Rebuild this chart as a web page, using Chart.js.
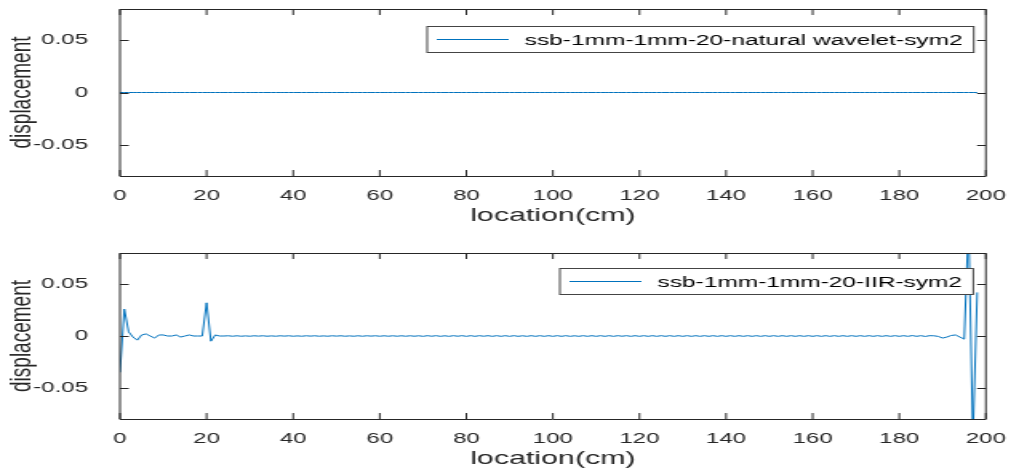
<!DOCTYPE html>
<html>
<head>
<meta charset="utf-8">
<script src="https://cdn.jsdelivr.net/npm/chart.js@4"></script>
<style>
html, body { margin: 0; padding: 0; background: #fff; }
body { width: 1011px; height: 474px; overflow: hidden; position: relative; }
canvas.plot { position: absolute; left: 0; width: 1011px !important; height: 237px !important; }
#top { top: 0; }
#bottom { top: 237px; }
</style>
</head>
<body>
<canvas id="top" class="plot" width="632" height="237"></canvas>
<canvas id="bottom" class="plot" width="632" height="237"></canvas>
<script>
// location (cm) of each sample
const location_cm = [
  0, 1, 2, 3, 4, 5, 6, 7, 8, 9, 10, 11, 12, 13, 14, 15, 16, 17, 18, 19,
  20, 21, 22, 23, 24, 25, 26, 27, 28, 29, 30, 31, 32, 33, 34, 35, 36, 37, 38, 39,
  40, 41, 42, 43, 44, 45, 46, 47, 48, 49, 50, 51, 52, 53, 54, 55, 56, 57, 58, 59,
  60, 61, 62, 63, 64, 65, 66, 67, 68, 69, 70, 71, 72, 73, 74, 75, 76, 77, 78, 79,
  80, 81, 82, 83, 84, 85, 86, 87, 88, 89, 90, 91, 92, 93, 94, 95, 96, 97, 98, 99,
  100, 101, 102, 103, 104, 105, 106, 107, 108, 109, 110, 111, 112, 113, 114, 115, 116, 117, 118, 119,
  120, 121, 122, 123, 124, 125, 126, 127, 128, 129, 130, 131, 132, 133, 134, 135, 136, 137, 138, 139,
  140, 141, 142, 143, 144, 145, 146, 147, 148, 149, 150, 151, 152, 153, 154, 155, 156, 157, 158, 159,
  160, 161, 162, 163, 164, 165, 166, 167, 168, 169, 170, 171, 172, 173, 174, 175, 176, 177, 178, 179,
  180, 181, 182, 183, 184, 185, 186, 187, 188, 189, 190, 191, 192, 193, 194, 195, 196, 197, 198
];

// natural wavelet result: flat zero
const waveletDisp = [
  0, 0, 0, 0, 0, 0, 0, 0, 0, 0, 0, 0, 0, 0, 0, 0, 0, 0, 0, 0,
  0, 0, 0, 0, 0, 0, 0, 0, 0, 0, 0, 0, 0, 0, 0, 0, 0, 0, 0, 0,
  0, 0, 0, 0, 0, 0, 0, 0, 0, 0, 0, 0, 0, 0, 0, 0, 0, 0, 0, 0,
  0, 0, 0, 0, 0, 0, 0, 0, 0, 0, 0, 0, 0, 0, 0, 0, 0, 0, 0, 0,
  0, 0, 0, 0, 0, 0, 0, 0, 0, 0, 0, 0, 0, 0, 0, 0, 0, 0, 0, 0,
  0, 0, 0, 0, 0, 0, 0, 0, 0, 0, 0, 0, 0, 0, 0, 0, 0, 0, 0, 0,
  0, 0, 0, 0, 0, 0, 0, 0, 0, 0, 0, 0, 0, 0, 0, 0, 0, 0, 0, 0,
  0, 0, 0, 0, 0, 0, 0, 0, 0, 0, 0, 0, 0, 0, 0, 0, 0, 0, 0, 0,
  0, 0, 0, 0, 0, 0, 0, 0, 0, 0, 0, 0, 0, 0, 0, 0, 0, 0, 0, 0,
  0, 0, 0, 0, 0, 0, 0, 0, 0, 0, 0, 0, 0, 0, 0, 0, 0, 0, 0
];

// IIR result
const iirDisp = [
  -0.035, 0.026, 0.004, -0.001, -0.004, 0.001, 0.002, 0.000, -0.002, 0.001,
  0.001, 0.000, 0.000, 0.001, -0.001, 0.000, 0.001, 0.000, 0.000, 0.000,
  0.032, -0.005, 0.001, 0.000, 0.000, 0.0002, -0.0002, 0.0002, -0.0002, 0.0001,
  -0.0002, 0.0002, -0.0001, 0.0002, -0.0002, 0.0001, -0.0002, 0.0002, -0.0001, 0.0002,
  -0.0002, 0.0001, -0.0002, 0.0002, -0.0001, 0.0002, -0.0002, 0.0001, -0.0002, 0.0002,
  -0.0001, 0.0002, -0.0002, 0.0001, -0.0002, 0.0002, -0.0002, 0.0002, -0.0001, 0.0002,
  -0.0002, 0.0002, -0.0002, 0.0002, -0.0002, 0.0002, -0.0002, 0.0002, -0.0002, 0.0002,
  -0.0003, 0.0003, -0.0002, 0.0003, -0.0003, 0.0002, -0.0003, 0.0003, -0.0002, 0.0003,
  -0.0003, 0.0003, -0.0003, 0.0003, -0.0002, 0.0003, -0.0003, 0.0003, -0.0003, 0.0003,
  -0.0003, 0.0003, -0.0003, 0.0002, -0.0003, 0.0003, -0.0003, 0.0003, -0.0003, 0.0003,
  -0.0003, 0.0003, -0.0003, 0.0003, -0.0003, 0.0002, -0.0003, 0.0003, -0.0003, 0.0003,
  -0.0003, 0.0003, -0.0003, 0.0003, -0.0003, 0.0003, -0.0002, 0.0003, -0.0003, 0.0003,
  -0.0003, 0.0003, -0.0003, 0.0003, -0.0003, 0.0003, -0.0003, 0.0003, -0.0003, 0.0003,
  -0.0003, 0.0003, -0.0003, 0.0003, -0.0003, 0.0003, -0.0003, 0.0003, -0.0003, 0.0003,
  -0.0003, 0.0003, -0.0003, 0.0003, -0.0003, 0.0003, -0.0003, 0.0003, -0.0003, 0.0003,
  -0.0003, 0.0003, -0.0003, 0.0003, -0.0003, 0.0003, -0.0003, 0.0003, -0.0003, 0.0003,
  -0.0003, 0.0003, -0.0003, 0.0003, -0.0003, 0.0003, -0.0003, 0.0003, -0.0003, 0.0003,
  -0.0003, 0.0003, -0.0003, 0.0003, -0.0003, 0.0003, -0.0003, 0.0003, -0.0003, 0.0003,
  -0.0003, 0.0003, -0.0003, 0.0004, -0.0003, 0.0003, -0.0004, 0.0003, 0.0002, -0.0004,
  -0.002, -0.001, 0.0005, 0.001, -0.001, -0.003, 0.11, -0.10, 0.042
];

const xTicks = [0, 20, 40, 60, 80, 100, 120, 140, 160, 180, 200];
const yTicks = [-0.05, 0, 0.05];

const FONT = '"Liberation Sans", Arial, Helvetica, sans-serif';
const INK = '#262626';
const BLUE = '#0072BD';

Chart.defaults.font.family = FONT;

// box around the axes with inward ticks, like matlab
const matlabAxes = {
    id: 'matlabAxes',
    afterDatasetsDraw(chart) {
        const ctx = chart.ctx;
        const a = chart.chartArea;
        const x = chart.scales.x;
        const y = chart.scales.y;
        ctx.save();
        ctx.strokeStyle = INK;
        ctx.lineWidth = 1;
        ctx.beginPath();
        ctx.rect(a.left, a.top + 0.5, a.right - a.left, a.bottom - a.top);
        x.ticks.forEach(t => {
            const px = x.getPixelForValue(t.value);
            ctx.moveTo(px, a.bottom); ctx.lineTo(px, a.bottom - 6);
            ctx.moveTo(px, a.top); ctx.lineTo(px, a.top + 6);
        });
        y.ticks.forEach(t => {
            const py = Math.round(y.getPixelForValue(t.value)) + 0.5;
            ctx.moveTo(a.left, py); ctx.lineTo(a.left + 5.5, py);
            ctx.moveTo(a.right, py); ctx.lineTo(a.right - 5.5, py);
        });
        ctx.stroke();
        ctx.restore();
    }
};

// legend box in the top right corner
const boxLegend = {
    id: 'boxLegend',
    afterDraw(chart, args, opts) {
        const ctx = chart.ctx;
        const a = chart.chartArea;
        const label = chart.data.datasets[0].label;
        ctx.save();
        ctx.font = '15.3px ' + FONT;
        const tw = ctx.measureText(label).width;
        const w = 6 + 45 + 10 + tw + 7;
        const h = 26;
        const left = Math.round(a.right - 8 - w);
        const top = Math.round(a.top + opts.offsetTop) + 0.5;
        ctx.fillStyle = '#fff';
        ctx.fillRect(left, top, w, h);
        ctx.strokeStyle = '#444';
        ctx.lineWidth = 1;
        ctx.strokeRect(left, top, w, h);
        ctx.strokeStyle = BLUE;
        ctx.beginPath();
        ctx.moveTo(left + 6, top + h / 2);
        ctx.lineTo(left + 51, top + h / 2);
        ctx.stroke();
        ctx.fillStyle = '#000';
        ctx.textBaseline = 'middle';
        ctx.textAlign = 'left';
        ctx.fillText(label, left + 61, top + h / 2 + 1);
        ctx.restore();
    }
};

function makePanel(id, values, label, padTop, xAxisHeight, titlePad, legendTop) {
    const points = location_cm.map((x, i) => ({ x: x, y: values[i] }));
    return new Chart(document.getElementById(id).getContext('2d'), {
        type: 'line',
        data: {
            datasets: [{
                label: label,
                data: points,
                borderColor: BLUE,
                borderWidth: 1,
                pointRadius: 0,
                tension: 0,
                fill: false
            }]
        },
        options: {
            responsive: false,
            animation: false,
            devicePixelRatio: 1,
            layout: { padding: { top: padTop, right: 15.75, left: 0, bottom: 0 } },
            plugins: {
                legend: { display: false },
                tooltip: { enabled: false },
                boxLegend: { offsetTop: legendTop }
            },
            scales: {
                x: {
                    type: 'linear',
                    min: 0,
                    max: 200,
                    afterFit(s) {
                        s.height = xAxisHeight;
                        s.paddingLeft = 0;
                        s.paddingRight = 0;
                    },
                    afterBuildTicks(s) { s.ticks = xTicks.map(v => ({ value: v })); },
                    grid: { display: false },
                    border: { display: false },
                    ticks: { padding: 3, color: INK, font: { size: 15 }, maxRotation: 0, autoSkip: false },
                    title: {
                        display: true,
                        text: 'location(cm)',
                        color: INK,
                        font: { size: 19 },
                        padding: { top: 0, bottom: titlePad }
                    }
                },
                y: {
                    min: -0.08,
                    max: 0.08,
                    afterFit(s) {
                        s.width = 75;
                        s.paddingTop = 0;
                        s.paddingBottom = 0;
                    },
                    afterBuildTicks(s) { s.ticks = yTicks.map(v => ({ value: v })); },
                    grid: { display: false },
                    border: { display: false },
                    ticks: { padding: 12, color: INK, font: { size: 15 }, callback: v => String(v) },
                    title: {
                        display: true,
                        text: 'displacement',
                        color: INK,
                        font: { size: 19 },
                        padding: { top: 2, bottom: 0 }
                    }
                }
            }
        },
        plugins: [matlabAxes, boxLegend]
    });
}

makePanel('top', waveletDisp, 'ssb-1mm-1mm-20-natural wavelet-sym2', 9, 61, 9.6, 17);
makePanel('bottom', iirDisp, 'ssb-1mm-1mm-20-IIR-sym2', 16, 55, 3.6, 15);
</script>
</body>
</html>
